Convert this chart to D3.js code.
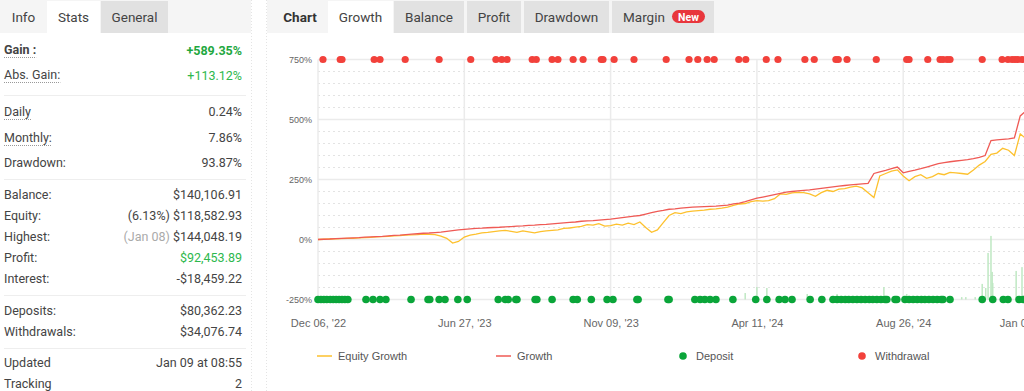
<!DOCTYPE html>
<html><head><meta charset="utf-8">
<script src="https://cdn.jsdelivr.net/npm/d3@7"></script>
<style>
html,body{margin:0;padding:0;background:#fff;overflow:hidden;}
svg{display:block;}
</style></head>
<body>
<svg id="c" width="1024" height="391"></svg>
<script>
// ---------- DATA ----------
const statLabels = ["Gain :","Abs. Gain:","Daily","Monthly:","Drawdown:","Balance:","Equity:","Highest:","Profit:","Interest:","Deposits:","Withdrawals:","Updated","Tracking"];
const statValues = ["+589.35%","+113.12%","0.24%","7.86%","93.87%","$140,106.91","$118,582.93","$144,048.19","$92,453.89","-$18,459.22","$80,362.23","$34,076.74","Jan 09 at 08:55","2"];
const statPrefix = ["","","","","","","(6.13%) ","(Jan 08) ","","","","","",""];
const leftTabs = ["Info","Stats","General"];
const chartTabs = ["Chart","Growth","Balance","Profit","Drawdown","Margin"];
const tickIndex = [0,25,50,75,100,121];
const tickLabels = ["Dec 06, '22","Jun 27, '23","Nov 09, '23","Apr 11, '24","Aug 26, '24","Jan 09, '25"];
const yTicks = [750,500,250,0,-250];
const growth = [0,1,2,4,5,6,7,8,10,11,
 12,13,15,17,18,20,22,24,26,27,
 29,31,34,37,40,42,44,46,47,49,
 50,51,53,54,56,57,59,60,62,63,
 65,67,69,71,73,76,78,79,81,83,
 85,88,91,94,97,100,106,112,117,121,
 126,128,131,133,135,136,137,138,139,141,
 143,148,152,158,165,172,177,182,187,192,
 197,200,203,205,207,210,213,216,219,222,
 225,228,230,232,234,275,282,288,295,302,
 278,284,289,295,302,309,316,320,324,327,
 330,333,337,342,350,412,415,417,419,423,
 515,537];
const equity = [0,1,2,3,4,5,5,7,8,9,
 11,12,13,15,16,18,19,20,22,21,
 20,14,5,-15,-8,10,18,22,28,30,
 33,36,38,34,30,36,32,28,33,36,
 38,40,46,48,52,55,62,60,66,56,
 58,64,60,68,62,73,50,30,40,70,
 100,112,108,115,118,120,122,126,128,131,
 135,142,148,150,158,162,160,162,170,190,
 188,194,196,195,190,180,195,205,200,210,
 212,218,222,215,195,175,265,275,285,290,
 265,245,262,270,255,262,275,270,280,278,
 275,272,290,310,325,355,360,380,372,350,
 440,420];
const withdrawals = [0.85,3.8,4.1,9.6,10.6,14.9,20.7,26.1,30.4,31.4,32.3,36.6,37.3,40.0,41.0,43.6,45.3,48.4,48.7,50.6,54.0,59.5,63.4,64.9,66.5,67.7,71.9,73.1,76.6,78.6,83.2,84.8,88.5,88.9,90.4,95.4,100.6,101.0,104.2,106.3,106.8,107.5,108.0,113.5,116.9,117.9,118.6,119.1,119.6,120.3];
const deposits = [0,0.5,1.0,1.5,2.1,2.6,3.1,3.6,4.1,4.6,5.1,8.2,9.4,10.6,11.6,15.9,18.8,19.1,20.7,21.7,23.9,25.5,30.8,32.0,32.5,33.8,34.0,37.1,37.4,40.0,43.6,44.3,46.7,49.4,50.4,54.5,54.7,59.8,60.0,64.4,65.3,66.1,67.0,68.0,70.9,74.8,76.7,78.8,79.8,81.0,84.1,86.1,88.0,88.7,89.4,90.1,90.7,91.4,92.1,92.8,93.5,94.2,94.8,95.5,96.2,96.9,97.2,98.6,98.9,100.3,101.0,101.7,102.4,103.1,103.7,104.4,105.1,105.8,106.5,106.8,108.0,113.5,115.3,117.1,117.9,119.8,120.5];
const barIndex = [73.0,75.0,76.7,83.6,88.7,96.7,100.6,110.0,110.7,112.3,113.5,114.1,114.5,115.0,115.2,115.3,119.3,120.3];
const barTop = [-223,-198,-202,-227,-227,-198,-227,-240,-240,-240,-185,-202,-56,15,-135,-181,-131,-115];
const legendNames = ["Equity Growth","Growth","Deposit","Withdrawal"];

// ---------- DRAW ----------
const svg = d3.select("#c");
const PF = "Roboto, 'Noto Sans', sans-serif";
const CF = "'Liberation Sans', Arial, sans-serif";

// left tabs
svg.append("rect").attr("x",0).attr("y",0).attr("width",251).attr("height",33).attr("fill","#f5f5f5");
const ltx = [[0,47,"#f5f5f5"],[47,100,"#ffffff"],[101,168,"#e1e1e1"]];
leftTabs.forEach((t,i)=>{
  svg.append("rect").attr("x",ltx[i][0]).attr("y",i==1?1:1).attr("width",ltx[i][1]-ltx[i][0]).attr("height",i==1?32:32).attr("fill",ltx[i][2]);
  svg.append("text").attr("x",(ltx[i][0]+ltx[i][1])/2).attr("y",22).attr("text-anchor","middle")
    .attr("font-family",PF).attr("font-size",13.5).attr("fill",i==2?"#444":"#444").text(t);
});
// left panel border (dotted)
svg.append("line").attr("x1",251.5).attr("x2",251.5).attr("y1",0).attr("y2",391).attr("stroke","#e4e4e4").attr("stroke-dasharray","1,2");

// stats
const rowY = [49,74,111,137,162,194,215,236,257,278,310,331,362,383];
const underline = [true,true,true,true,false,false,false,false,false,false,false,false,false,false];
statLabels.forEach((l,i)=>{
  const t = svg.append("text").attr("x",4).attr("y",rowY[i]+4.5).attr("font-family",PF).attr("font-size",12.5)
    .attr("fill","#444").attr("font-weight",i==0?"bold":"normal").text(l);
  if(underline[i]){
    const w = t.node().getComputedTextLength();
    svg.append("line").attr("x1",4).attr("x2",4+w).attr("y1",rowY[i]+8.5).attr("y2",rowY[i]+8.5)
      .attr("stroke","#999").attr("stroke-dasharray","1,1");
  }
  const v = svg.append("text").attr("x",242).attr("y",rowY[i]+(i<2?6:4.5)).attr("text-anchor","end")
    .attr("font-family",PF).attr("font-size",12.5);
  if(statPrefix[i]) v.append("tspan").attr("fill",i==7?"#aaa":"#444").text(statPrefix[i]);
  const green = (i==0||i==1||i==8);
  v.append("tspan").attr("fill",green?(i==0?"#1fa83f":"#2db84d"):"#444").attr("font-weight",i==0?"bold":"normal").text(statValues[i]);
});
[95,179,295,348].forEach(y=>{
  svg.append("line").attr("x1",4).attr("x2",246).attr("y1",y+0.5).attr("y2",y+0.5).attr("stroke","#eeeeee");
});

// chart tabs
svg.append("rect").attr("x",267).attr("y",0).attr("width",757).attr("height",33).attr("fill","#f5f5f5");
const ctx = [[267,327,"#f5f5f5"],[328,393,"#ffffff"],[394,464,"#e2e2e2"],[467,521,"#e2e2e2"],[524,609,"#e2e2e2"],[612,714,"#e2e2e2"]];
chartTabs.forEach((t,i)=>{
  svg.append("rect").attr("x",ctx[i][0]).attr("y",1).attr("width",ctx[i][1]-ctx[i][0]).attr("height",32).attr("fill",ctx[i][2]);
  svg.append("text").attr("x",i==5?623:(ctx[i][0]+ctx[i][1])/2+(i==0?3:0)).attr("y",22)
    .attr("text-anchor",i==5?"start":"middle")
    .attr("font-family",PF).attr("font-size",13.5).attr("font-weight",i==0?"bold":"normal").attr("fill",i==0?"#333":"#444").text(t);
});
svg.append("rect").attr("x",672).attr("y",10).attr("width",33).attr("height",13).attr("rx",6.5).attr("fill","#e8363c");
svg.append("text").attr("x",688.5).attr("y",20.5).attr("text-anchor","middle").attr("font-family",PF).attr("font-size",10.5)
  .attr("font-weight","bold").attr("fill","#fff").text("New");
svg.append("line").attr("x1",266.5).attr("x2",266.5).attr("y1",0).attr("y2",391).attr("stroke","#e4e4e4").attr("stroke-dasharray","1,2");

// scales
const x = d3.scaleLinear().domain([0,121]).range([318, 318+121*5.852]);
const y = d3.scaleLinear().domain([-250,750]).range([299.5,59.5]);

// minor dotted grid
d3.range(-200,750,50).filter(v=>v%250!==0).forEach(v=>{
  svg.append("line").attr("x1",318).attr("x2",1024).attr("y1",y(v)).attr("y2",y(v))
    .attr("stroke","#e3e3e3").attr("stroke-dasharray","2,3");
});
// major grid
yTicks.forEach(v=>{
  svg.append("line").attr("x1",318).attr("x2",1024).attr("y1",y(v)).attr("y2",y(v)).attr("stroke","#ebebeb").attr("stroke-width",1.5);
});
tickIndex.forEach(t=>{
  svg.append("line").attr("x1",x(t)).attr("x2",x(t)).attr("y1",y(750)).attr("y2",y(-250)).attr("stroke","#ebebeb").attr("stroke-width",1.5);
});
// axes
const yAxis = d3.axisLeft(y).tickValues(yTicks).tickFormat(d=>d+"%").tickSize(0).tickPadding(6);
const ga = svg.append("g").attr("transform","translate(318,0)").call(yAxis);
ga.select(".domain").remove();
ga.selectAll("text").attr("font-family",CF).attr("font-size",9).attr("fill","#666");
const xAxis = d3.axisBottom(x).tickValues(tickIndex).tickFormat((d,i)=>tickLabels[i]).tickSize(0).tickPadding(0);
const gx = svg.append("g").attr("transform","translate(0,319)").call(xAxis);
gx.select(".domain").remove();
gx.selectAll("text").attr("font-family",CF).attr("font-size",11).attr("fill","#666");

// bars
svg.append("g").selectAll("rect").data(barIndex).join("rect")
  .attr("x",d=>x(d)-0.75).attr("width",1.5)
  .attr("y",(d,i)=>y(barTop[i])).attr("height",(d,i)=>y(-250)-y(barTop[i]))
  .attr("fill","#bfe8c3");

// lines
const line = d3.line().x((d,i)=>x(i)).y(d=>y(d));
svg.append("path").datum(equity).attr("d",line).attr("fill","none").attr("stroke","#fdc12e").attr("stroke-width",1.3);
svg.append("path").datum(growth).attr("d",line).attr("fill","none").attr("stroke","#ef5a55").attr("stroke-width",1.3);

// dots
svg.append("g").selectAll("circle").data(withdrawals).join("circle")
  .attr("cx",d=>x(d)).attr("cy",y(750)).attr("r",3.6).attr("fill","#f2413b");
svg.append("g").selectAll("circle").data(deposits).join("circle")
  .attr("cx",d=>x(d)).attr("cy",y(-250)).attr("r",3.8).attr("fill","#0aa539");

// legend
const lg = [[317,"line","#fdc12e",338],[496,"line","#ef5a55",517],[683,"dot","#0aa539",696],[862,"dot","#f2413b",875]];
legendNames.forEach((n,i)=>{
  const [lx,type,col,tx] = lg[i];
  if(type==="line") svg.append("line").attr("x1",lx).attr("x2",lx+15).attr("y1",356).attr("y2",356).attr("stroke",col).attr("stroke-width",1.5);
  else svg.append("circle").attr("cx",lx).attr("cy",356).attr("r",3.8).attr("fill",col);
  svg.append("text").attr("x",tx).attr("y",360).attr("font-family",CF).attr("font-size",11).attr("fill","#555").text(n);
});
</script>
</body></html>
